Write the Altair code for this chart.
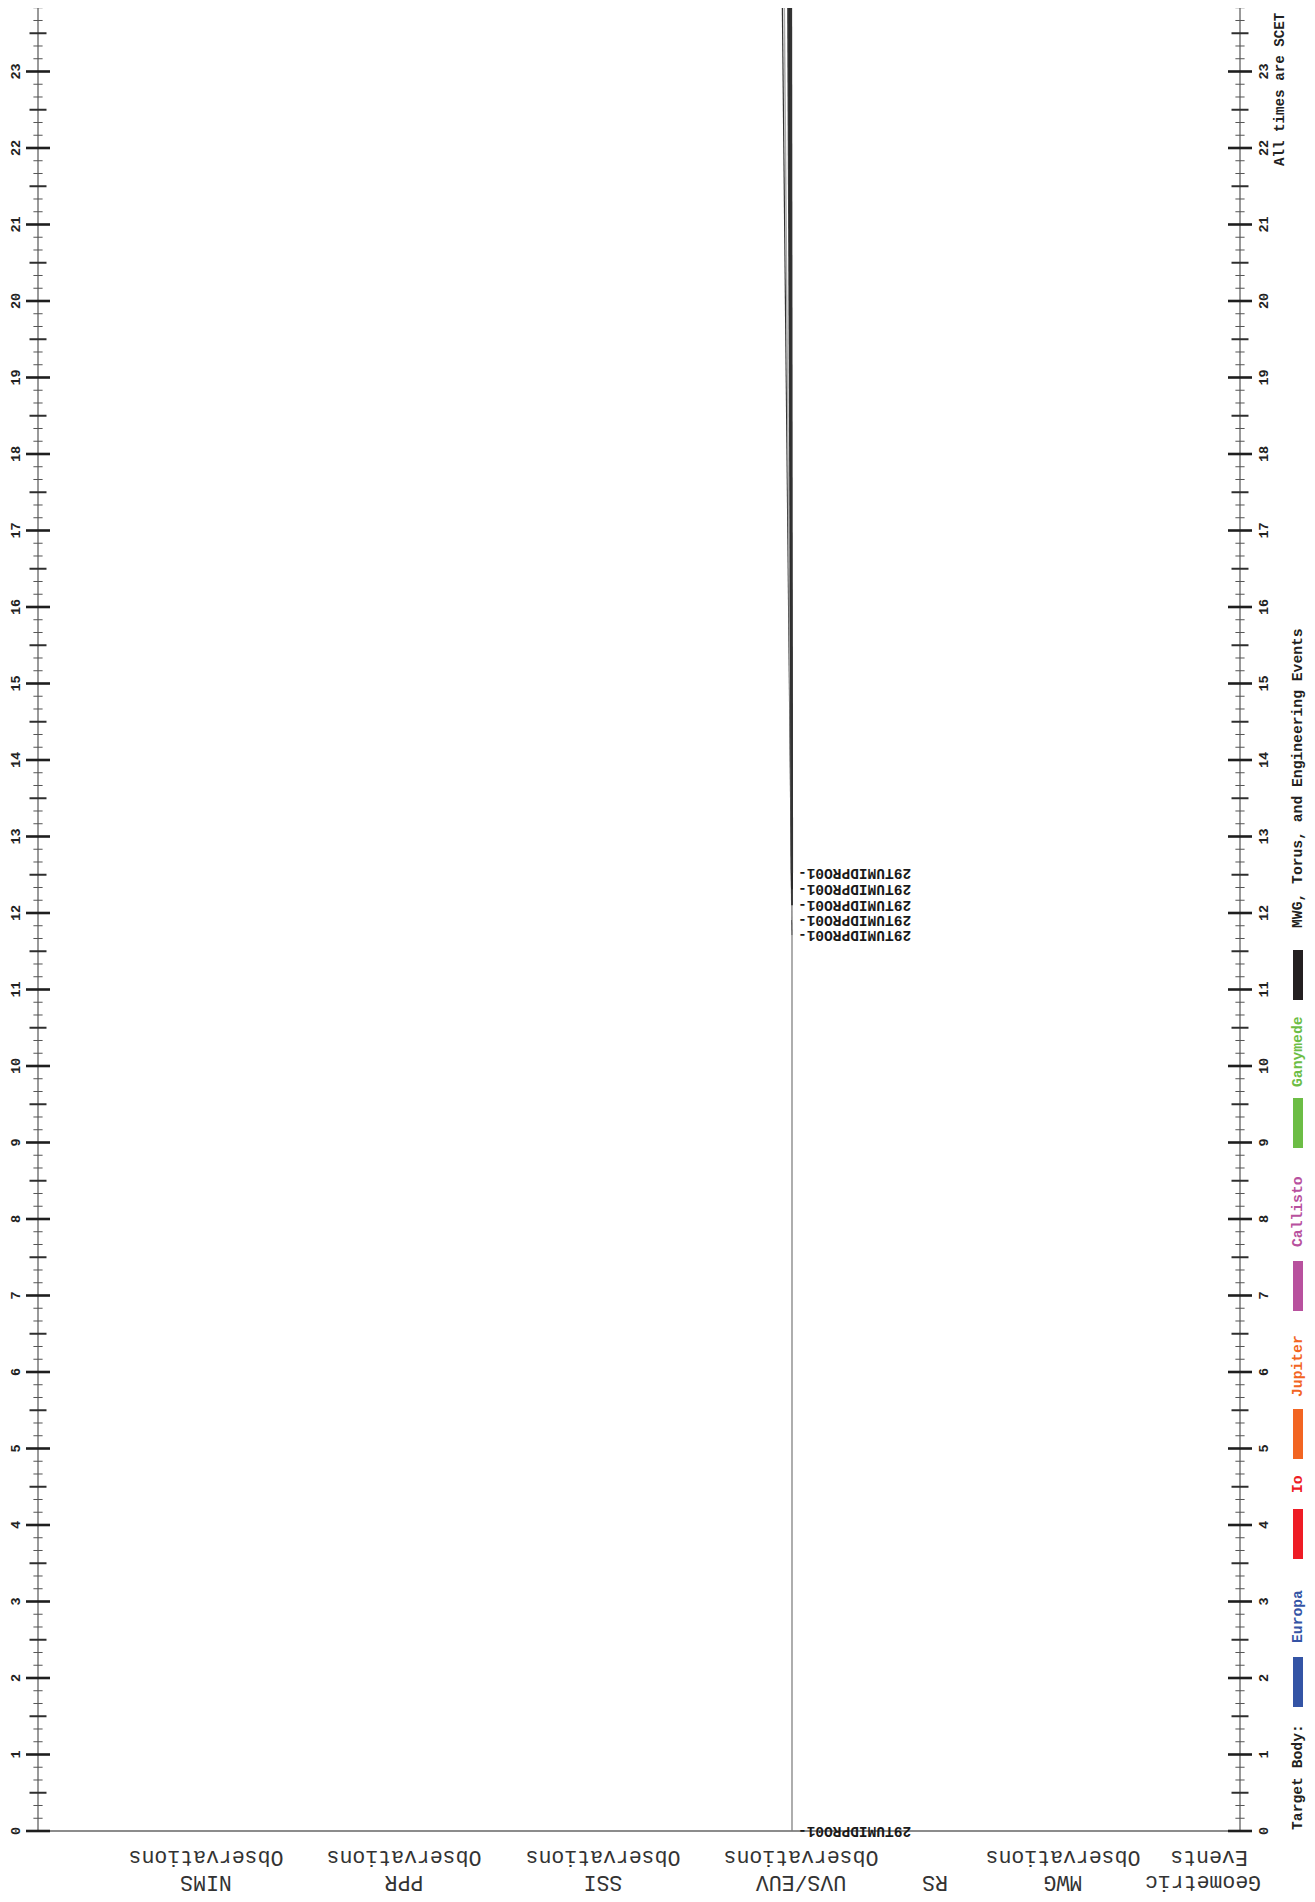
import altair as alt
import pandas as pd

# ---------------- data ----------------
hours = list(range(24))                      # hour tick labels 0..23
obs_labels = ["29TUMIDPRO01-"] * 6
obs_start = [0.0, 11.71, 11.91, 12.10, 12.31, 12.52]   # hours (SCET)
obs_end = [11.71, 24.3, 24.3, 24.3, 24.3, 24.3]

lanes = ["NIMS", "PPR", "SSI", "UVS/EUV", "RS", "MWG", "Geometric"]
lane_sub = ["Observations", "Observations", "Observations", "Observations", "", "Observations", "Events"]

legend_names = ["Europa", "Io", "Jupiter", "Callisto", "Ganymede",
                "MWG, Torus, and Engineering Events"]
legend_colors = ["#3454a5", "#ee1c25", "#f26522", "#b8519e", "#6cbd45", "#231f20"]

# ---------------- layout ----------------
W, H = 1202, 1823
LEFT, TOP_PX = 38, 8            # page offset of plot origin
TOPH = 23.83                    # hours at top edge of plot
FONT = "Liberation Mono"
yscale = alt.Scale(domain=[0, TOPH], nice=False, zero=False)

def px(x):
    return x - LEFT

def py(y):
    return y - TOP_PX

lane_cx = [206, 404, 603, 801, 935, 1063, 1203]
lane_sub_cx = [206, 404, 603, 801, 935, 1063, 1209]

# observation line geometry (page x)
obs_x0 = [792, 792, 792, 792, 792, 792]
obs_x1 = [792, 782, 784, 788, 789.5, 791]
obs_col = ["#777777", "#333333", "#aaaaaa", "#3a3a3a", "#2a2a2a", "#333333"]
obs_w = [1.2, 1.2, 1.5, 2.0, 2.0, 2.2]

# legend geometry (page y)
leg_bar_bottom = [1707, 1559, 1459, 1311, 1148, 1000]
leg_text_start = [1643, 1493, 1397, 1247, 1087, 928]
LEG_X = 1298

# ---------------- tables ----------------
ticks = pd.DataFrame({"i": list(range(0, 144))})
ticks["t"] = ticks["i"] / 6.0
ticks["lvl"] = ["major" if i % 6 == 0 else ("mid" if i % 3 == 0 else "minor") for i in ticks["i"]]

hours_df = pd.DataFrame({"t": hours, "lab": [str(h) for h in hours]})

obs_df = pd.DataFrame({
    "lab": obs_labels, "t0": obs_start, "t1": obs_end,
    "x0": [px(v) for v in obs_x0], "x1": [px(v) for v in obs_x1],
    "col": obs_col, "w": obs_w,
})

lane_df = pd.DataFrame({
    "lab": lanes + lane_sub,
    "x": [px(v) for v in lane_cx] + [px(v) for v in lane_sub_cx],
    "y": [py(1882)] * len(lanes) + [py(1857)] * len(lane_sub),
})
lane_df = lane_df[lane_df["lab"] != ""]

leg_bar_df = pd.DataFrame({
    "name": legend_names, "col": legend_colors,
    "y1": [py(v) for v in leg_bar_bottom], "y2": [py(v - 50) for v in leg_bar_bottom],
})
leg_txt_df = pd.DataFrame({
    "name": ["Target Body:"] + legend_names,
    "col": ["#231f20"] + legend_colors,
    "y": [py(1830)] + [py(v) for v in leg_text_start],
})
note_df = pd.DataFrame({"lab": ["All times are SCET"], "y": [py(166)]})

base_rule = alt.Chart(pd.DataFrame({"t0": [0.0], "t1": [24.3]}))

layers = []

# axis lines (left & right) and bottom line
for xv in (0, W):
    layers.append(base_rule.mark_rule(color="#777777", strokeWidth=1.5).encode(
        x=alt.value(xv),
        y=alt.Y("t0:Q", scale=yscale, axis=None),
        y2="t1:Q"))
layers.append(alt.Chart(pd.DataFrame({"t": [0.0]})).mark_rule(color="#666666", strokeWidth=1.5).encode(
    x=alt.value(0), x2=alt.value(W),
    y=alt.Y("t:Q", scale=yscale, axis=None)))

# ticks
tick_style = {"major": (12, 2.6, "#1e1e1e"), "mid": (8.5, 2.0, "#2e2e2e"), "minor": (4.6, 1.0, "#555555")}
for lvl, (half, sw, col) in tick_style.items():
    sub = ticks[ticks["lvl"] == lvl]
    for ax in (0, W):
        layers.append(alt.Chart(sub).mark_rule(color=col, strokeWidth=sw).encode(
            x=alt.value(ax - half), x2=alt.value(ax + half),
            y=alt.Y("t:Q", scale=yscale, axis=None)))

# hour labels
for xl in (px(16), px(1263.5)):
    layers.append(alt.Chart(hours_df).mark_text(
        angle=270, align="center", baseline="middle", font=FONT,
        fontSize=13.5, fontWeight="bold", color="#222222").encode(
        x=alt.value(xl),
        y=alt.Y("t:Q", scale=yscale, axis=None),
        text="lab:N"))

# observation lines
layers.append(alt.Chart(obs_df).mark_rule(strokeCap="butt").encode(
    x=alt.X("x0:Q", scale=None, axis=None), x2="x1:Q",
    y=alt.Y("t0:Q", scale=yscale, axis=None), y2="t1:Q",
    color=alt.Color("col:N", scale=None),
    strokeWidth=alt.StrokeWidth("w:Q", scale=None)))

# observation labels
layers.append(alt.Chart(obs_df).mark_text(
    angle=180, align="right", baseline="middle", font=FONT,
    fontSize=14.5, fontWeight="bold", color="#1a1a1a").encode(
    x=alt.value(px(798)),
    y=alt.Y("t0:Q", scale=yscale, axis=None),
    text="lab:N"))

# lane labels (upside down)
layers.append(alt.Chart(lane_df).mark_text(
    angle=180, align="center", baseline="middle", font=FONT,
    fontSize=21.5, color="#333333").encode(
    x=alt.X("x:Q", scale=None, axis=None),
    y=alt.Y("y:Q", scale=None, axis=None),
    text="lab:N"))

# legend bars
layers.append(alt.Chart(leg_bar_df).mark_rect().encode(
    x=alt.value(px(LEG_X - 5)), x2=alt.value(px(LEG_X + 5)),
    y=alt.Y("y1:Q", scale=None, axis=None), y2="y2:Q",
    color=alt.Color("col:N", scale=None)))

# legend texts
layers.append(alt.Chart(leg_txt_df).mark_text(
    angle=270, align="left", baseline="middle", font=FONT,
    fontSize=14.7, fontWeight="bold").encode(
    x=alt.value(px(LEG_X)),
    y=alt.Y("y:Q", scale=None, axis=None),
    color=alt.Color("col:N", scale=None),
    text="name:N"))

# note
layers.append(alt.Chart(note_df).mark_text(
    angle=270, align="left", baseline="middle", font=FONT,
    fontSize=14.2, fontWeight="bold", color="#222222").encode(
    x=alt.value(px(1280)),
    y=alt.Y("y:Q", scale=None, axis=None),
    text="lab:N"))

chart = alt.layer(*layers).properties(
    width=W, height=H,
    padding={"left": 30, "top": 0, "right": 66, "bottom": 63},
    autosize=alt.AutoSizeParams(type="none"),
    background="white",
).configure_view(stroke=None)

chart.save("out.html", embed_options={"renderer": "svg", "actions": False})
